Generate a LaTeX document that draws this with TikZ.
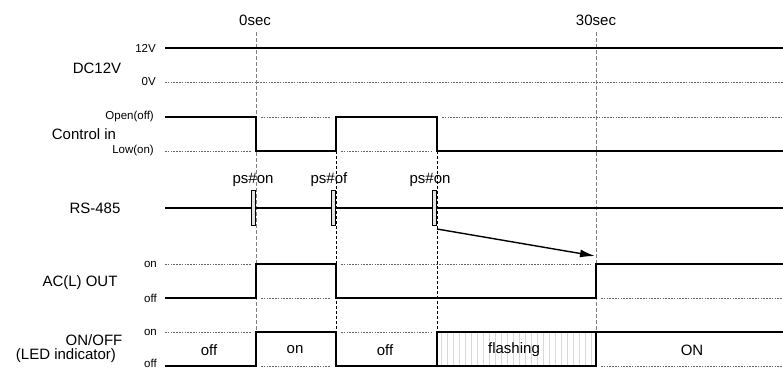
\documentclass[tikz,border=0pt]{standalone}
\usepackage{fontspec}
\setmainfont{Liberation Sans}
\usetikzlibrary{arrows.meta}
\newcommand{\bigtxt}{\fontsize{15}{18}\selectfont}
\newcommand{\lil}{\fontsize{11.5}{13}\selectfont}

\begin{document}
\begin{tikzpicture}[x=1pt,y=-1pt,
    sig/.style={line width=2.6pt},
    ref/.style={line width=0.7pt,gray!80!black,dash pattern=on 1.6pt off 1.2pt},
    guide/.style={line width=1pt,gray,dash pattern=on 4pt off 2pt},
    fine/.style={line width=0.8pt,dash pattern=on 3pt off 2pt},
    txt/.style={font=\bigtxt,inner sep=0pt},
    lvltxt/.style={font=\lil,inner sep=0pt,anchor=east},
    pulse/.style={draw,fill=gray!20,line width=1pt,minimum width=4pt,minimum height=35pt,inner sep=0pt}
]
\useasboundingbox (0,0) rectangle (783,370);

% time marks
\node[txt] (t0) at (255,20) {0sec};
\node[txt] (t30) at (596,20) {30sec};
\draw[guide] (256,32) -- (256,332);
\draw[guide] (596,32) -- (596,332);
\draw[fine] (336,151) -- (336,332);
\draw[fine] (437,151) -- (437,332);

% DC12V
\node[txt] (dc) at (97,68) {DC12V};
\node[lvltxt] (dchi) at (156,48) {12V};
\node[lvltxt] (dclo) at (156,82) {0V};
\draw[sig] (165,48) -- (783,48);
\draw[ref] (165,82) -- (783,82);

% Control in
\node[txt] (ctl) at (84,134) {Control in};
\node[lvltxt] (ctlhi) at (154,117) {Open(off)};
\node[lvltxt] (ctllo) at (154,151) {Low(on)};
\draw[sig] (165,117) -- (256,117) -- (256,151) -- (336,151) -- (336,117)
    -- (437,117) -- (437,151) -- (783,151);
\draw[ref] (165,151) -- (251,151);
\draw[ref] (261,117) -- (331,117);
\draw[ref] (341,151) -- (432,151);
\draw[ref] (442,117) -- (783,117);

% RS-485
\node[txt] (rs) at (95,208) {RS-485};
\draw[sig] (165,208) -- (783,208);
\node[pulse] (p1) at (253,207.5) {};
\node[pulse] (p2) at (333,207.5) {};
\node[pulse] (p3) at (434.5,207.5) {};
\node[txt] (c1) at (253,180) {ps\#on};
\node[txt] (c2) at (329,180) {ps\#of};
\node[txt] (c3) at (430,180) {ps\#on};

\coordinate (cmd) at (437,229);
\coordinate (rise) at (595,256);
\draw[line width=1.4pt,-{Latex[length=15pt,width=8pt]}] (cmd) -- (rise);

% AC(L) OUT
\node[txt] (ac) at (80,283) {AC(L) OUT};
\node[lvltxt] (achi) at (157,264) {on};
\node[lvltxt] (aclo) at (157,298) {off};
\draw[sig] (165,298) -- (256,298) -- (256,264) -- (336,264) -- (336,298)
    -- (596,298) -- (596,264) -- (783,264);
\draw[ref] (165,264) -- (251,264);
\draw[ref] (261,298) -- (331,298);
\draw[ref] (341,264) -- (591,264);
\draw[ref] (601,298) -- (783,298);

% ON/OFF (LED)
\node[txt] (led) at (94,340) {ON/OFF};
\node[txt] (ledsub) at (66,356) {(LED indicator)};
\node[lvltxt] (ledhi) at (157,332) {on};
\node[lvltxt] (ledlo) at (157,363.5) {off};
\foreach \x in {441,447,...,593}
    \draw[gray!30,line width=0.8pt] (\x,333) -- (\x,365);
\draw[sig] (165,366) -- (256,366) -- (256,332) -- (336,332) -- (336,366)
    -- (437,366) -- (437,332) -- (783,332);
\draw[sig] (437,366) -- (596,366) -- (596,332);
\draw[ref] (165,332) -- (251,332);
\draw[ref] (261,366) -- (331,366);
\draw[ref] (341,332) -- (432,332);
\draw[ref] (601,366) -- (783,366);

\node[txt] (s1) at (209,350) {off};
\node[txt] (s2) at (295,350) {on};
\node[txt] (s3) at (385,350) {off};
\node[txt] (s4) at (514,350) {flashing};
\node[txt] (s5) at (692,350) {ON};
\end{tikzpicture}
\end{document}
